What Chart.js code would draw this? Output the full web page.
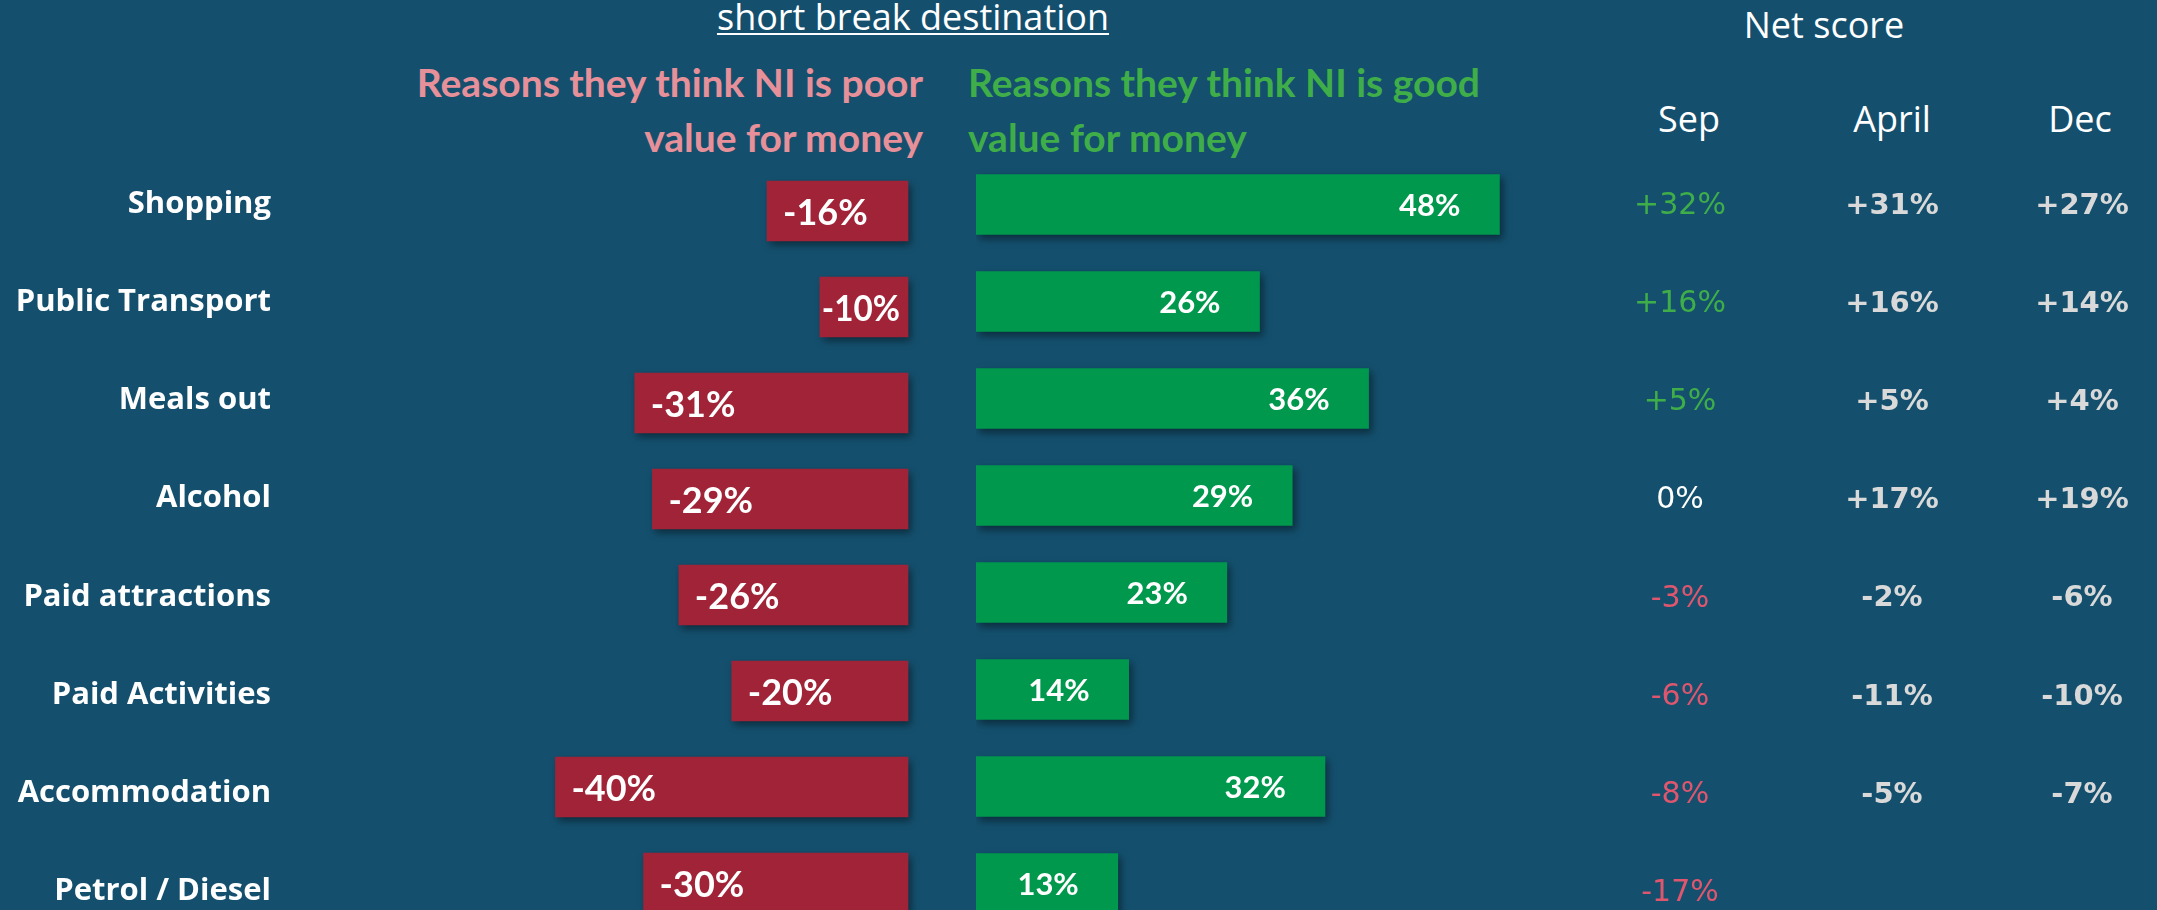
<!DOCTYPE html>
<html>
<head>
<meta charset="utf-8">
<script src="https://cdn.jsdelivr.net/npm/chart.js@4.4.1/dist/chart.umd.min.js"></script>
<style>
  body { margin: 0; width: 2157px; height: 910px; overflow: hidden; background: #14506e; position: relative; color: #fff; font-family: "Open Sans", sans-serif; }
  .txt { position: absolute; white-space: nowrap; }
  #title { left: 613px; width: 600px; top: -5px; text-align: center; font-size: 36px; line-height: 44px; }
  #title span { text-decoration: underline; text-underline-offset: 3px; text-decoration-thickness: 2px; }
  .head { font-family: Lato, sans-serif; font-weight: bold; font-size: 39px; line-height: 55px; top: 55px; }
  #poorHead { right: 1234px; text-align: right; color: #e8909a; }
  #goodHead { left: 968px; text-align: left; color: #3fae49; }
  #netHead { left: 1674px; width: 300px; text-align: center; top: 3px; font-size: 36px; line-height: 44px; }
  .col { width: 200px; text-align: center; top: 97px; font-size: 36px; line-height: 44px; }
  .box { position: absolute; }
  #leftBox { left: 0; top: 163px; width: 920px; height: 768px; }
  #rightBox { left: 976px; top: 156px; width: 1181px; height: 776px; }
</style>
</head>
<body>
<div id="title" class="txt"><span>short break destination</span></div>
<div id="poorHead" class="txt head">Reasons they think NI is poor<br>value for money</div>
<div id="goodHead" class="txt head">Reasons they think NI is good<br>value for money</div>
<div id="netHead" class="txt">Net score</div>
<div id="cols"></div>
<div id="leftBox" class="box"><canvas id="poorChart"></canvas></div>
<div id="rightBox" class="box"><canvas id="goodChart"></canvas></div>
<script>
const categories = ['Shopping', 'Public Transport', 'Meals out', 'Alcohol', 'Paid attractions', 'Paid Activities', 'Accommodation', 'Petrol / Diesel'];
const poorValues = [-16, -10, -31, -29, -26, -20, -40, -30];
const goodValues = [48, 26, 36, 29, 23, 14, 32, 13];
const netColumns = ['Sep', 'April', 'Dec'];
const netSep = [32, 16, 5, 0, -3, -6, -8, -17];
const netApril = [31, 16, 5, 17, -2, -11, -5, null];
const netDec = [27, 14, 4, 19, -6, -10, -7, null];

const headCenters = [1689, 1892, 2080]; // page x of column headers
const colCenters = [1680, 1892, 2082];  // page x of the net score values

// column headers
const cols = document.getElementById('cols');
netColumns.forEach((c, i) => {
  const d = document.createElement('div');
  d.className = 'txt col';
  d.style.left = (headCenters[i] - 100) + 'px';
  d.textContent = c;
  cols.appendChild(d);
});

function fmtNet(v) {
  if (v > 0) return '+' + v + '%';
  return v + '%';
}

// one tick per category row on the linear row axes
function rowTicks(scale) {
  scale.ticks = categories.map((c, i) => ({ value: i }));
}

const barShadow = {
  id: 'barShadow',
  beforeDatasetsDraw(chart) {
    const ctx = chart.ctx;
    ctx.save();
    ctx.shadowColor = 'rgba(0,0,0,0.45)';
    ctx.shadowBlur = 8;
    ctx.shadowOffsetX = 3;
    ctx.shadowOffsetY = 4;
  },
  afterDatasetsDraw(chart) {
    chart.ctx.restore();
  }
};

// value labels inside bars
const barLabels = {
  id: 'barLabels',
  afterDatasetsDraw(chart) {
    const ctx = chart.ctx;
    const meta = chart.getDatasetMeta(0);
    const data = chart.data.datasets[0].data;
    const poor = chart.canvas.id === 'poorChart';
    ctx.save();
    ctx.fillStyle = '#ffffff';
    ctx.textBaseline = 'middle';
    meta.data.forEach((bar, i) => {
      const txt = data[i] + '%';
      if (poor) {
        ctx.font = 'bold 36px Lato';
        ctx.textAlign = 'left';
        const w = bar.base - bar.x;
        const tw = ctx.measureText(txt).width;
        if (tw + 22 > w) {
          ctx.fillText(txt, bar.x + 2, bar.y + 2, w - 10);
        } else {
          ctx.fillText(txt, bar.x + 16, bar.y + 2);
        }
      } else {
        ctx.font = 'bold 31px Lato';
        ctx.textAlign = 'right';
        ctx.fillText(txt, bar.x - 39, bar.y + 1);
      }
    });
    ctx.restore();
  }
};

// net score table, rows placed on the hidden 'yn' scale
const netScores = {
  id: 'netScores',
  afterDraw(chart) {
    const ctx = chart.ctx;
    const yn = chart.scales.yn;
    const left = chart.canvas.getBoundingClientRect().left;
    ctx.save();
    ctx.textAlign = 'center';
    ctx.textBaseline = 'middle';
    categories.forEach((c, i) => {
      const y = yn.getPixelForValue(i) + 2;
      const s = netSep[i];
      ctx.font = '30px "DejaVu Sans"';
      ctx.fillStyle = s > 0 ? '#3fae49' : (s < 0 ? '#e0566e' : '#ffffff');
      ctx.fillText(fmtNet(s), colCenters[0] - left, y);
      ctx.font = 'bold 29px "DejaVu Sans"';
      ctx.fillStyle = '#d9d9d9';
      if (netApril[i] !== null) ctx.fillText(fmtNet(netApril[i]), colCenters[1] - left, y);
      if (netDec[i] !== null) ctx.fillText(fmtNet(netDec[i]), colCenters[2] - left, y);
    });
    ctx.restore();
  }
};

Chart.defaults.animation = false;

new Chart(document.getElementById('poorChart'), {
  type: 'bar',
  data: {
    labels: categories,
    datasets: [{
      data: poorValues,
      backgroundColor: '#a02337',
      barThickness: 60,
      clip: false
    }]
  },
  options: {
    indexAxis: 'y',
    responsive: true,
    maintainAspectRatio: false,
    layout: { padding: { top: 0, bottom: 0, left: 0, right: 12 } },
    plugins: { legend: { display: false }, tooltip: { enabled: false } },
    scales: {
      x: { display: false, min: -70, max: 0 },
      y: { display: false, offset: true },
      yl: {
        type: 'linear',
        position: 'left',
        reverse: true,
        offset: false,
        min: -0.4175,
        max: 7.4033,
        grid: { display: false, drawTicks: false, offset: false },
        border: { display: false },
        afterBuildTicks: rowTicks,
        afterFit: scale => {
          scale.width = 291;
          scale.paddingTop = 0;
          scale.paddingBottom = 0;
        },
        ticks: {
          padding: 20,
          autoSkip: false,
          color: '#ffffff',
          font: { family: 'Open Sans', weight: 'bold', size: 31 },
          callback: v => categories[v]
        }
      }
    }
  },
  plugins: [barShadow, barLabels]
});

new Chart(document.getElementById('goodChart'), {
  type: 'bar',
  data: {
    labels: categories,
    datasets: [{
      data: goodValues,
      backgroundColor: '#00984d',
      barThickness: 60,
      clip: false
    }]
  },
  options: {
    indexAxis: 'y',
    responsive: true,
    maintainAspectRatio: false,
    layout: { padding: 0 },
    plugins: { legend: { display: false }, tooltip: { enabled: false } },
    scales: {
      x: { display: false, min: 0, max: 108.3 },
      y: { display: false, offset: true },
      yn: {
        type: 'linear', display: false, reverse: true, offset: false,
        min: -0.4888, max: 7.4134,
        afterBuildTicks: rowTicks
      }
    }
  },
  plugins: [barShadow, barLabels, netScores]
});
</script>
</body>
</html>
